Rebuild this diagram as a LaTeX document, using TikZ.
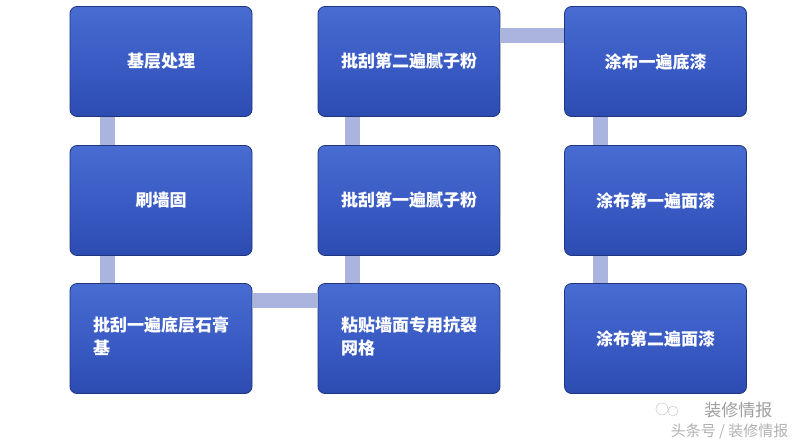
\documentclass[tikz,border=0pt]{standalone}
\usepackage{fontspec}
\newfontfamily\cjk{Noto Sans CJK SC}
\definecolor{boxtop}{RGB}{72,108,210}
\definecolor{boxmid}{RGB}{58,92,196}
\definecolor{boxbot}{RGB}{44,76,178}
\definecolor{linkc}{RGB}{170,180,222}
\begin{document}
\begin{tikzpicture}[x=1pt,y=-1pt,
 stepbox/.style={draw=boxbot!70!black, line width=0.8pt, rounded corners=7pt, top color=boxtop, bottom color=boxbot, middle color=boxmid, minimum width=182pt, minimum height=110pt, align=center, font=\cjk\bfseries\fontsize{17}{23}\selectfont, text=white},
 link/.style={line width=15pt, draw=linkc}]
\useasboundingbox (0,0) rectangle (800,447);
\fill[white] (0,0) rectangle (800,447);
\node[stepbox] (a1) at (161,61.5) {基层处理};
\node[stepbox] (a2) at (161,200.5) {刷墙固};
\node[stepbox] (a3) at (161,338.5) {\begin{tabular}{@{}l@{}}批刮一遍底层石膏\\基\end{tabular}};
\node[stepbox] (b3) at (409,338.5) {\begin{tabular}{@{}l@{}}粘贴墙面专用抗裂\\网格\end{tabular}};
\node[stepbox] (b2) at (409,200.5) {批刮第一遍腻子粉};
\node[stepbox] (b1) at (409,61.5) {批刮第二遍腻子粉};
\node[stepbox] (d1) at (655.5,61.5) {涂布一遍底漆};
\node[stepbox] (d2) at (655.5,200.5) {涂布第一遍面漆};
\node[stepbox] (d3) at (655.5,338.5) {涂布第二遍面漆};
\draw[link] ([xshift=-54pt,yshift=-0.5pt]a1.south) -- ([xshift=-54pt,yshift=0.5pt]a2.north);
\draw[link] ([xshift=-54pt,yshift=-0.5pt]a2.south) -- ([xshift=-54pt,yshift=0.5pt]a3.north);
\draw[link] ([yshift=38pt,xshift=0.5pt]a3.east) -- ([yshift=38pt,xshift=-0.5pt]b3.west);
\draw[link] ([xshift=-57pt,yshift=0.5pt]b3.north) -- ([xshift=-57pt,yshift=-0.5pt]b2.south);
\draw[link] ([xshift=-57pt,yshift=0.5pt]b2.north) -- ([xshift=-57pt,yshift=-0.5pt]b1.south);
\draw[link] ([yshift=26pt,xshift=0.5pt]b1.east) -- ([yshift=26pt,xshift=-0.5pt]d1.west);
\draw[link] ([xshift=-55pt,yshift=-0.5pt]d1.south) -- ([xshift=-55pt,yshift=0.5pt]d2.north);
\draw[link] ([xshift=-55pt,yshift=-0.5pt]d2.south) -- ([xshift=-55pt,yshift=0.5pt]d3.north);
\node[font=\cjk\fontsize{17}{20}\selectfont, text=gray!75, anchor=east] (w1) at (776,410) {装修情报};
\node[font=\cjk\fontsize{15}{18}\selectfont, text=gray!60, anchor=east] (w2) at (792,432) {头条号 / 装修情报};
\draw[gray!50] (662,409) circle (6pt) (673,411) circle (5pt);
\end{tikzpicture}
\end{document}
